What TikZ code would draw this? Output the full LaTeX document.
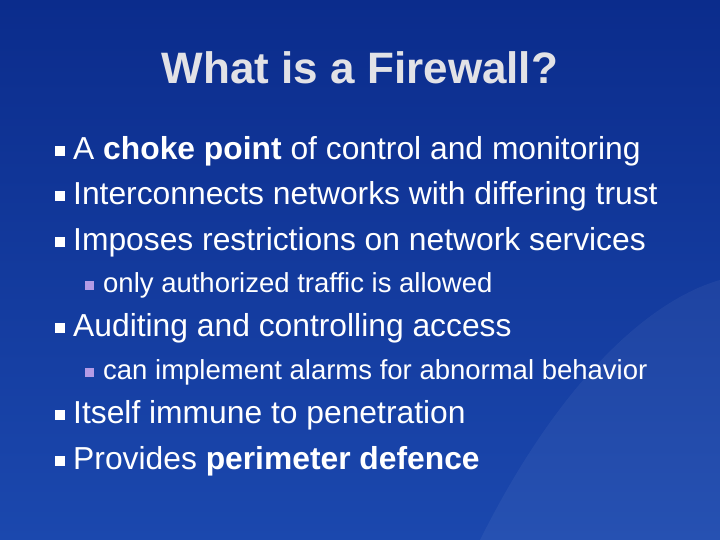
\documentclass[tikz,border=0pt]{standalone}
\usepackage{fontspec}
\setmainfont{Liberation Sans}
\definecolor{bgA}{HTML}{0B2C8C}
\definecolor{bgB}{HTML}{1B48AE}
\definecolor{ttl}{HTML}{E2E2E6}
\definecolor{subb}{HTML}{B49BE6}
\begin{document}
\begin{tikzpicture}[x=1pt,y=-1pt,
  main/.style={anchor=west,text=white,font=\fontsize{31.8}{34}\selectfont,inner sep=0pt},
  sub/.style={anchor=west,text=white,font=\fontsize{27.5}{30}\selectfont,inner sep=0pt},
  mb/.style={fill=white,minimum size=10pt,inner sep=0pt},
  sb/.style={fill=subb,minimum size=9pt,inner sep=0pt}]
\useasboundingbox (0,0) rectangle (720,540);
\shade[top color=bgA,bottom color=bgB] (0,0) rectangle (720,540);
\fill[white,opacity=0.05] (480,540) .. controls (560,380) and (650,300) .. (720,280) -- (720,540) -- cycle;
\node[text=ttl,font=\bfseries\fontsize{44}{48}\selectfont] (t) at (360,68) {What is a Firewall?};
\foreach \y/\n in {151/b1,196/b2,242/b3,328/b5,415/b7,461/b8} \node[mb] (\n) at (60,\y) {};
\foreach \y/\n in {285/s4,372/s6} \node[sb] (\n) at (89,\y) {};
\node[main] (l1) at (73,151) {A \textbf{choke point} of control and monitoring};
\node[main] (l2) at (73,196) {Interconnects networks with differing trust};
\node[main] (l3) at (73,242) {Imposes restrictions on network services};
\node[sub] (l4) at (103,285) {only authorized traffic is allowed};
\node[main] (l5) at (73,328) {Auditing and controlling access};
\node[sub] (l6) at (103,372) {can implement alarms for abnormal behavior};
\node[main] (l7) at (73,415) {Itself immune to penetration};
\node[main] (l8) at (73,461) {Provides \textbf{perimeter defence}};
\end{tikzpicture}
\end{document}
